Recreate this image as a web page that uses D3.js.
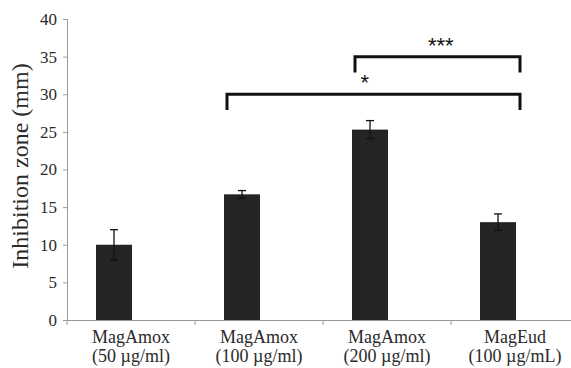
<!DOCTYPE html>
<html>
<head>
<meta charset="utf-8">
<script src="https://cdn.jsdelivr.net/npm/d3@7"></script>
<style>
  body { margin: 0; background: #fff; }
</style>
</head>
<body>
<div id="chart"></div>
<script>
// groups and measured values
var groups = ['MagAmox|(50 µg/ml)', 'MagAmox|(100 µg/ml)', 'MagAmox|(200 µg/ml)', 'MagEud|(100 µg/mL)'];
var zone = [10.0, 16.7, 25.3, 13.0];
var zoneErr = [2.0, 0.5, 1.2, 1.1];
var yTicks = [0, 5, 10, 15, 20, 25, 30, 35, 40];

// significance brackets: from group, to group, height, label
var brFrom = [1, 2];
var brTo = [3, 3];
var brLevel = [30, 35];
var brLabel = ['*', '***'];
var brLabelPos = [0.47, 0.52]; // where the stars sit along the bracket

var width = 571, height = 368;
var margin = { l: 67, r: -8, t: 19, b: 48 };
var serif = 'Liberation Serif';

var svg = d3.select('#chart')
    .append('svg')
    .attr('width', width)
    .attr('height', height);

var x = d3.scaleBand()
    .domain(groups)
    .range([margin.l, width - margin.r]);

var y = d3.scaleLinear()
    .domain([0, 40])
    .range([height - margin.b, margin.t]);

var barW = 36;
var barShift = -17; // bars sit left of the category centres in the original

function barX(i) {
    return x(groups[i]) + x.bandwidth() / 2 + barShift;
}

// axes
var yAxis = svg.append('g')
    .attr('transform', 'translate(' + margin.l + ',0)')
    .call(d3.axisLeft(y).tickValues(yTicks).tickSize(4).tickPadding(6));
yAxis.attr('font-family', serif).attr('font-size', 17);
yAxis.select('.domain').attr('stroke', '#999');
yAxis.selectAll('.tick line').attr('stroke', '#999');
yAxis.selectAll('.tick text').attr('fill', '#2a2a2a');

var xAxis = svg.append('g')
    .attr('transform', 'translate(0,' + y(0) + ')')
    .call(d3.axisBottom(x).tickSize(0).tickFormat(''));
xAxis.select('.domain').attr('stroke', '#999');

// category tick marks on band edges
svg.append('g').selectAll('line')
    .data(groups)
    .enter()
    .append('line')
    .attr('x1', d => x(d))
    .attr('x2', d => x(d))
    .attr('y1', y(0))
    .attr('y2', y(0) + 5)
    .attr('stroke', '#999');

// category labels (two lines)
var labels = svg.append('g')
    .attr('font-family', serif)
    .attr('font-size', 18)
    .attr('fill', '#2a2a2a')
    .selectAll('text')
    .data(groups)
    .enter()
    .append('text')
    .attr('text-anchor', 'middle')
    .attr('x', d => x(d) + x.bandwidth() / 2)
    .attr('y', y(0) + 23);
labels.append('tspan')
    .attr('x', d => x(d) + x.bandwidth() / 2)
    .text(d => d.split('|')[0]);
labels.append('tspan')
    .attr('x', d => x(d) + x.bandwidth() / 2)
    .attr('dy', 19)
    .text(d => d.split('|')[1]);

// y axis title
svg.append('text')
    .attr('transform', 'translate(28,166) rotate(-90)')
    .attr('text-anchor', 'middle')
    .attr('font-family', serif)
    .attr('font-size', 24)
    .attr('fill', '#2a2a2a')
    .text('Inhibition zone (mm)');

// bars
svg.append('g').selectAll('rect')
    .data(zone)
    .enter()
    .append('rect')
    .attr('x', (d, i) => barX(i) - barW / 2)
    .attr('width', barW)
    .attr('y', d => y(d))
    .attr('height', d => y(0) - y(d))
    .attr('fill', '#242424');

// error bars
var eb = svg.append('g').attr('stroke', '#111').attr('stroke-width', 1.3);
zone.forEach(function (v, i) {
    var cx = barX(i);
    eb.append('line').attr('x1', cx).attr('x2', cx)
        .attr('y1', y(v - zoneErr[i])).attr('y2', y(v + zoneErr[i]));
    eb.append('line').attr('x1', cx - 4).attr('x2', cx + 4)
        .attr('y1', y(v + zoneErr[i])).attr('y2', y(v + zoneErr[i]));
    eb.append('line').attr('x1', cx - 4).attr('x2', cx + 4)
        .attr('y1', y(v - zoneErr[i])).attr('y2', y(v - zoneErr[i]));
});

// significance brackets
var br = svg.append('g');
brLevel.forEach(function (lvl, i) {
    var x1 = barX(brFrom[i]) - 15;
    var x2 = barX(brTo[i]) + 22;
    br.append('path')
        .attr('d', 'M' + x1 + ',' + y(lvl - 2.1) + 'V' + y(lvl) + 'H' + x2 + 'V' + y(lvl - 2.1))
        .attr('fill', 'none')
        .attr('stroke', '#111')
        .attr('stroke-width', 3);
    br.append('text')
        .attr('x', x1 + (x2 - x1) * brLabelPos[i])
        .attr('y', y(lvl) - 4)
        .attr('text-anchor', 'middle')
        .attr('font-family', 'Liberation Sans')
        .attr('font-size', 22)
        .attr('fill', '#111')
        .text(brLabel[i]);
});
</script>
</body>
</html>
